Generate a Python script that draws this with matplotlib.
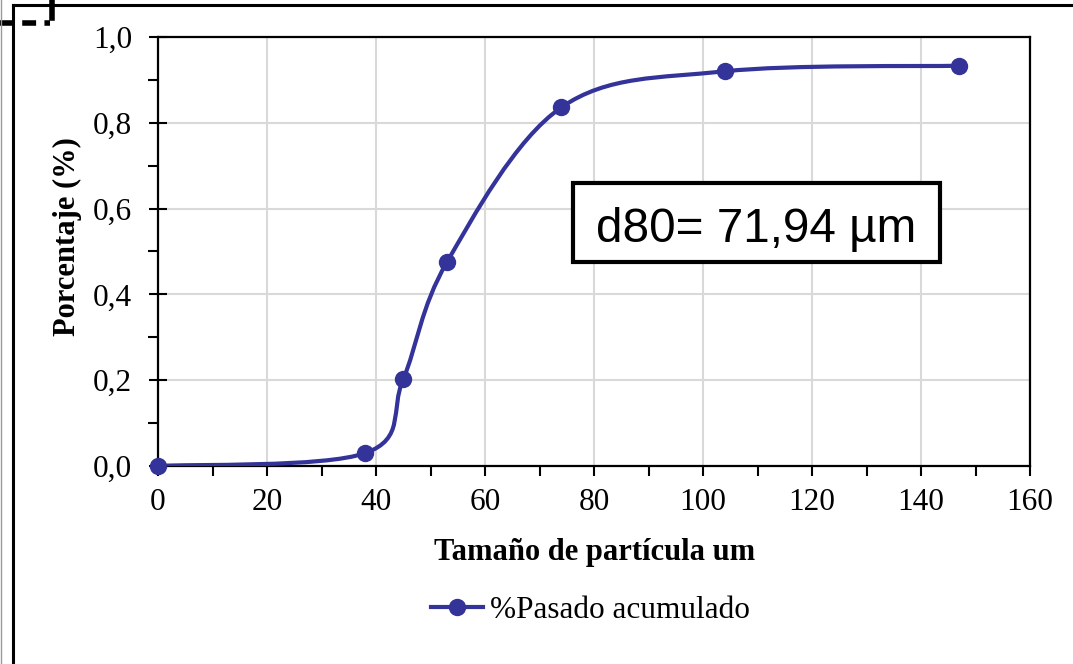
import matplotlib.pyplot as plt
from matplotlib.path import Path
from matplotlib.patches import PathPatch, Rectangle
from matplotlib.lines import Line2D
from matplotlib.ticker import MultipleLocator, FuncFormatter

# datos
tamano = [0, 38, 45, 53, 74, 104, 147]
pasado = [0.0, 0.030, 0.203, 0.475, 0.836, 0.920, 0.933]
d80_texto = "d80= 71,94 µm"

color = "#333399"
plt.rcParams["font.family"] = ["Liberation Serif", "DejaVu Serif"]

fig = plt.figure(figsize=(10.73, 6.64), dpi=100)
ax = fig.add_axes([0.1473, 0.2982, 0.8127, 0.6461])

# curva suavizada estilo Excel (Bezier con tensión 1/6)
pts = list(zip(tamano, pasado))
verts = [pts[0]]
codes = [Path.MOVETO]
n = len(pts)
for i in range(n - 1):
    p0 = pts[i - 1] if i > 0 else pts[i]
    p1 = pts[i]
    p2 = pts[i + 1]
    p3 = pts[i + 2] if i + 2 < n else pts[i + 1]
    c1 = (p1[0] + (p2[0] - p0[0]) / 6, p1[1] + (p2[1] - p0[1]) / 6)
    c2 = (p2[0] - (p3[0] - p1[0]) / 6, p2[1] - (p3[1] - p1[1]) / 6)
    verts += [c1, c2, p2]
    codes += [Path.CURVE4] * 3
ax.add_patch(PathPatch(Path(verts, codes), fill=False, edgecolor=color, lw=3, zorder=3))
ax.plot(tamano, pasado, ls="none", marker="o", ms=11.5, color=color, zorder=4, clip_on=False)

ax.set_xlim(0, 160)
ax.set_ylim(0, 1.0)
ax.xaxis.set_major_locator(MultipleLocator(20))
ax.xaxis.set_minor_locator(MultipleLocator(10))
ax.yaxis.set_major_locator(MultipleLocator(0.2))
ax.yaxis.set_minor_locator(MultipleLocator(0.1))
ax.yaxis.set_major_formatter(FuncFormatter(lambda v, p: f"{v:.1f}".replace(".", ",")))
ax.grid(True, which="major", color="#d9d9d9", lw=1.5, zorder=0)
ax.set_axisbelow(True)

for s in ax.spines.values():
    s.set_linewidth(1.6)
    s.set_color("black")

ax.tick_params(axis="x", which="major", direction="out", length=7, width=1.5, pad=9, labelsize=22.5)
ax.tick_params(axis="x", which="minor", direction="out", length=7, width=1.5)
ax.tick_params(axis="y", which="major", direction="inout", length=13, width=1.5, pad=12, labelsize=22.5)
ax.tick_params(axis="y", which="minor", direction="out", length=7, width=1.5)

ax.set_xlabel("Tamaño de partícula um", fontsize=22, fontweight="bold")
ax.set_ylabel("Porcentaje (%)", fontsize=22, fontweight="bold")
ax.xaxis.set_label_coords(0.5, -0.168)
ax.yaxis.set_label_coords(-0.087, 0.534)

# cuadro con el d80
ax.add_patch(Rectangle((0.476, 0.4755), 0.421, 0.1842, transform=ax.transAxes,
                       facecolor="white", edgecolor="black", lw=3, zorder=5))
ax.text(0.686, 0.522, d80_texto, transform=ax.transAxes, ha="center", va="baseline",
        fontfamily="Liberation Sans", fontsize=34.3, zorder=6)

# leyenda
h = Line2D([], [], color=color, lw=3, marker="o", ms=11.5)
fig.legend([h], ["%Pasado acumulado"], loc="center", bbox_to_anchor=(0.55, 0.081),
           frameon=False, handlelength=1.68, handletextpad=0.22, prop={"size": 22.5})

# marco exterior
fig.add_artist(Line2D([13 / 1073, 1], [1 - 5 / 664] * 2, color="black", lw=2.2))
fig.add_artist(Line2D([13 / 1073] * 2, [0, 1 - 5 / 664], color="black", lw=2.2))
fig.add_artist(Line2D([0, 50 / 1073], [1 - 23 / 664] * 2, color="black", lw=4, ls=(0, (2.5, 1.5))))
fig.add_artist(Line2D([52 / 1073] * 2, [1, 1 - 18 / 664], color="black", lw=4))
fig.add_artist(Line2D([0.5 / 1073] * 2, [0, 1], color="#999999", lw=1))

fig.savefig("out.png", dpi=100)
